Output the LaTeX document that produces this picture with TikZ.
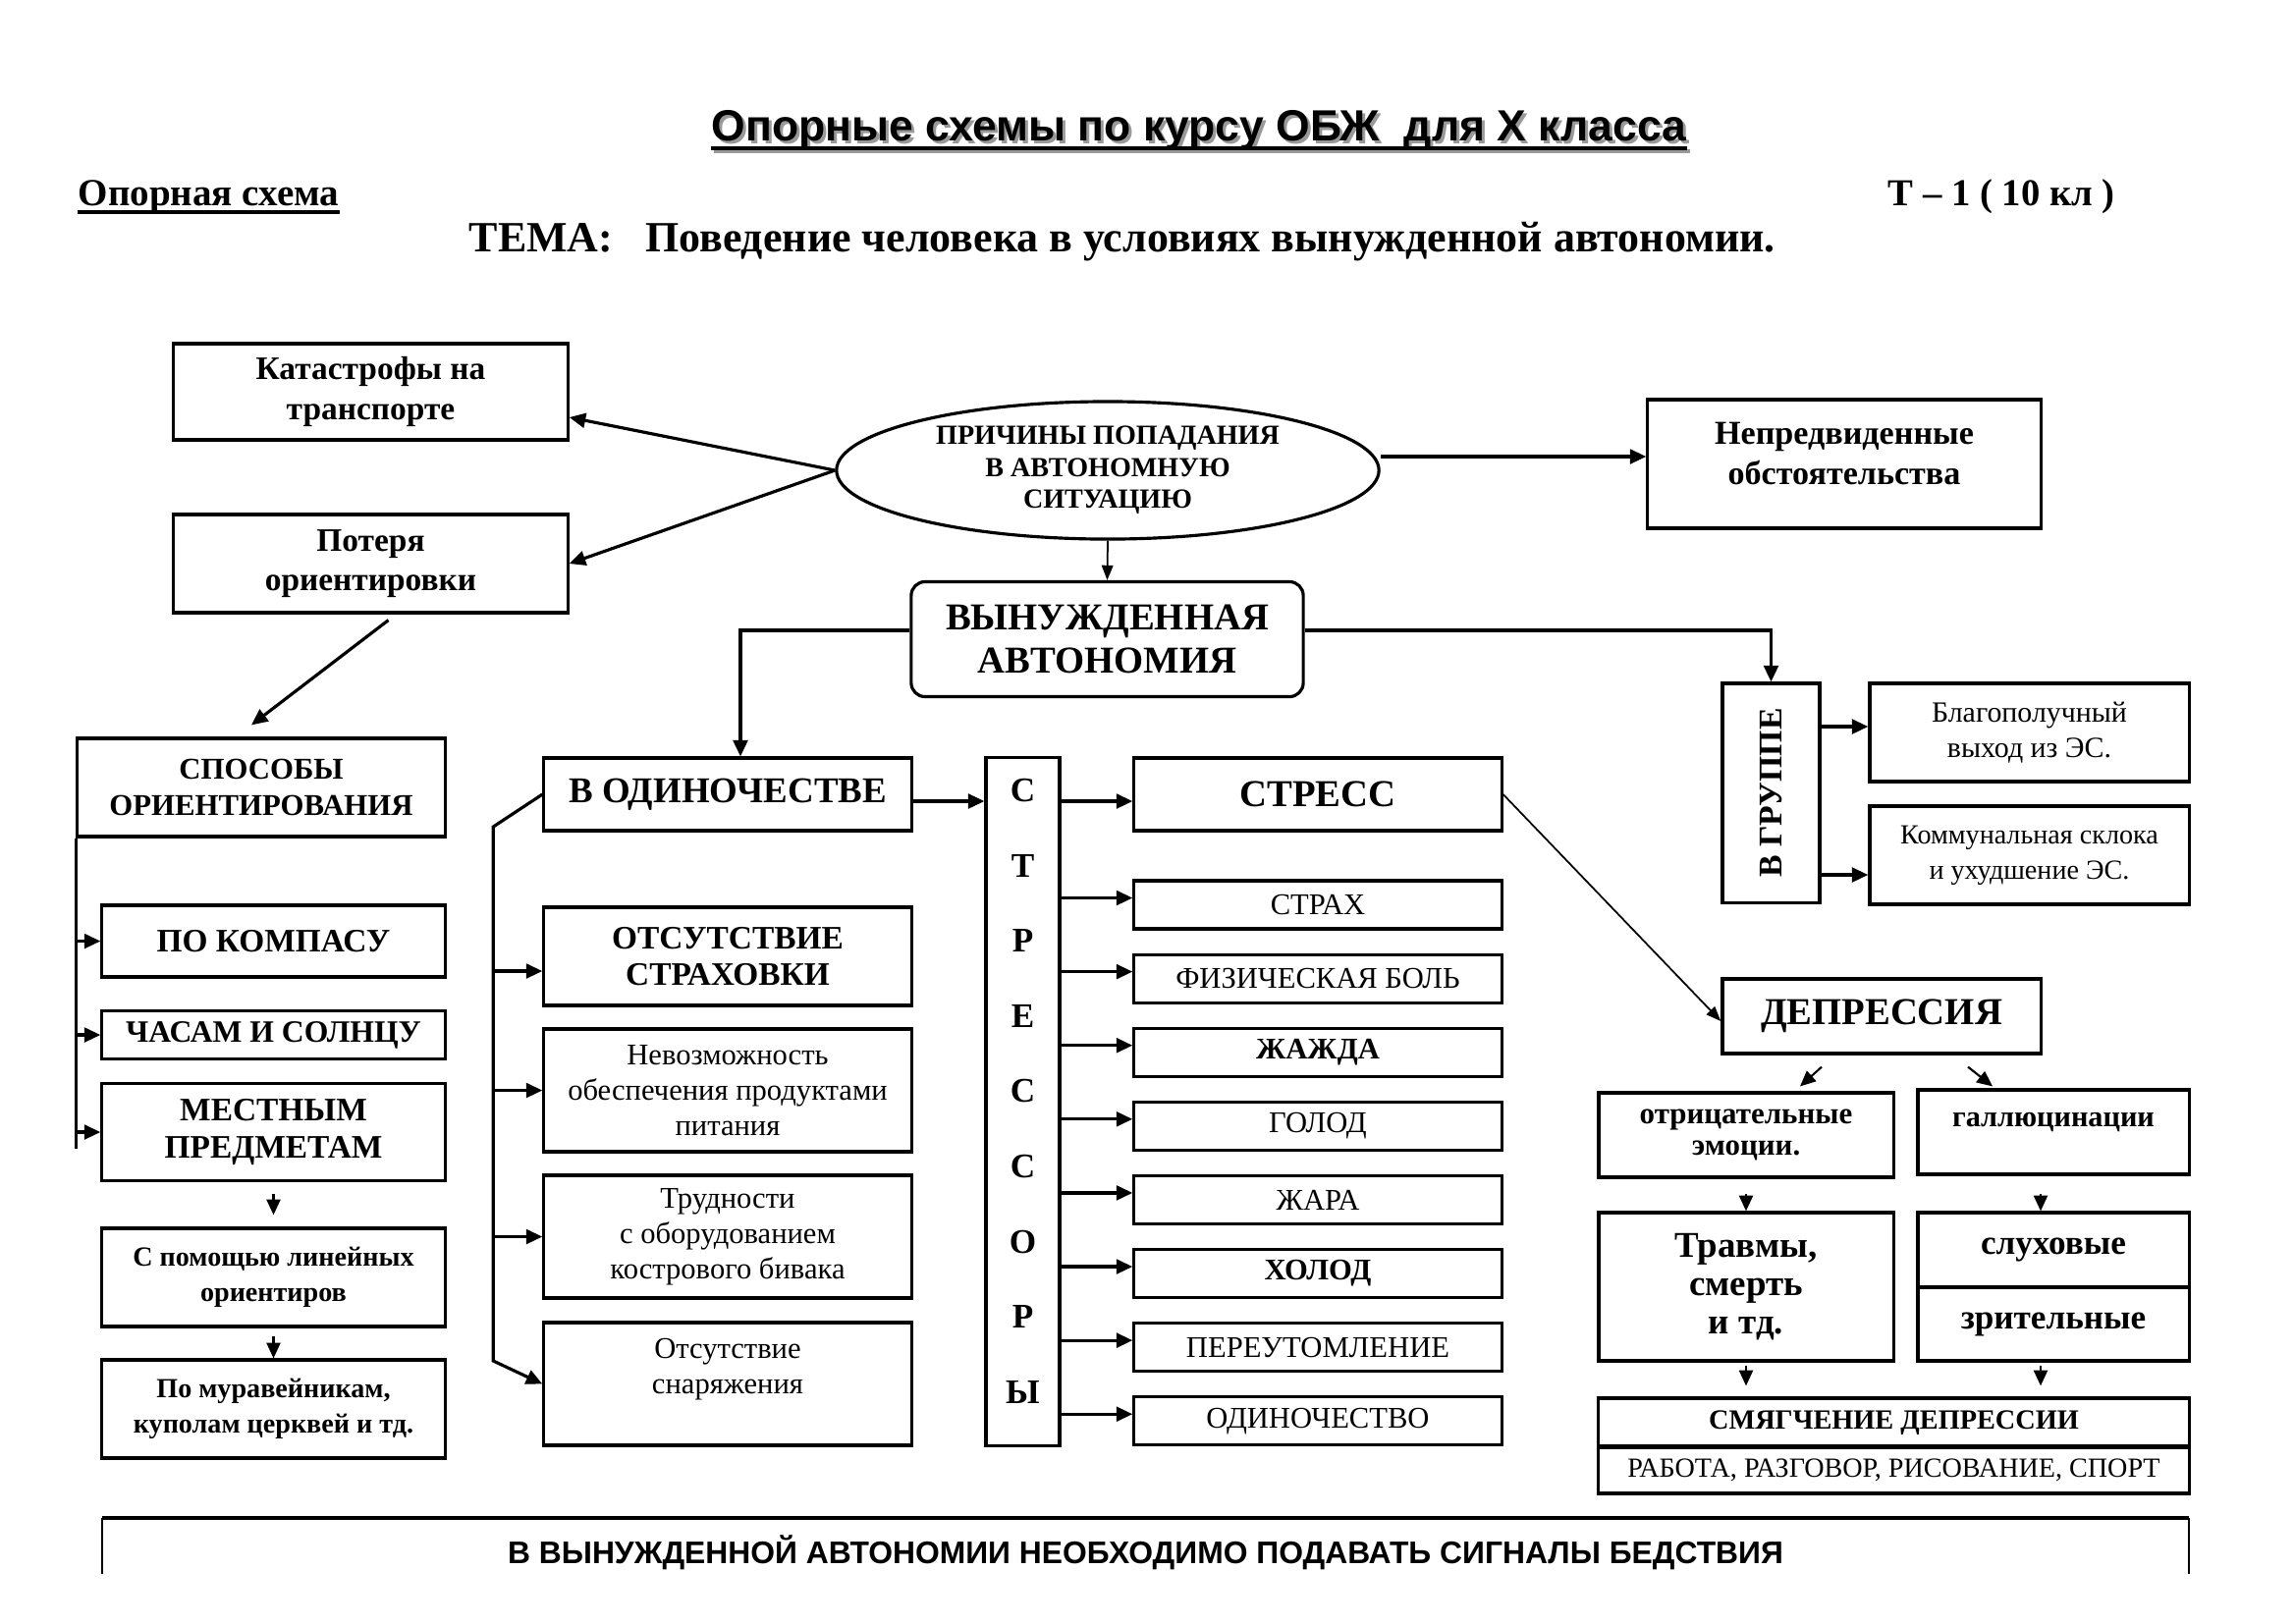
\documentclass[tikz,border=0pt]{standalone}
\usepackage{fontspec}
\setmainfont{Liberation Serif}
\newfontfamily\arialfont{Liberation Sans}
\usetikzlibrary{arrows.meta,calc,shapes.geometric}
\newcommand\fsz[2]{\fontsize{#1}{#2}\selectfont}

\begin{document}
\begin{tikzpicture}[x=0.01cm,y=-0.01cm,
  bx/.style={draw,line width=0.9pt,inner sep=1pt,align=center},
  item/.style={bx,minimum width=3.74cm,minimum height=0.49cm,font=\fsz{8.7}{10}},
  txt/.style={inner sep=0pt,align=center},
  arr/.style={-{Triangle[length=4.7pt,width=4.2pt]},line width=0.9pt},
  sarr/.style={-{Triangle[length=4.5pt,width=4pt]},line width=0.6pt},
  tarr/.style={-{Triangle[length=4.3pt,width=3.3pt]},line width=0.5pt},
  ln/.style={line width=0.9pt}]
\useasboundingbox (0,0) rectangle (2336,1653);

\node[txt,anchor=base,font=\arialfont\bfseries\fsz{12.65}{15},text=black!40] (title-sh) at (1224,146) {Опорные схемы по курсу ОБЖ\ \ для Х класса};
\node[txt,anchor=base,font=\arialfont\bfseries\fsz{12.65}{15}] (title) at (1221,143) {Опорные схемы по курсу ОБЖ\ \ для Х класса};
\draw[line width=1.3pt,black!40] ($(title.base west)+(3,11)$) -- ($(title.base east)+(3,11)$);
\draw[line width=1.3pt] ($(title.base west)+(0,8)$) -- ($(title.base east)+(0,8)$);
\node[txt,anchor=base west,font=\bfseries\fsz{11.1}{14}] (opor) at (79,209) {Опорная схема};
\draw[line width=1.2pt] ($(opor.base west)+(0,7)$) -- ($(opor.base east)+(0,7)$);
\node[txt,anchor=base west,font=\bfseries\fsz{11}{14}] (tnum) at (1922,209) {Т – 1 ( 10 кл )};
\node[txt,anchor=base west,font=\bfseries\fsz{12.5}{15}] (tema) at (477,256) {ТЕМА:\ \ \ Поведение человека в условиях вынужденной автономии.};

\node[bx,minimum width=4.01cm,minimum height=0.98cm,font=\bfseries\fsz{9.5}{11.5}] (kat) at (377.5,399) {Катастрофы на\\транспорте};
\node[bx,minimum width=4.01cm,minimum height=1cm,font=\bfseries\fsz{9.5}{11.5}] (pot) at (377.5,574) {Потеря\\ориентировки};
\node[draw,ellipse,line width=0.9pt,inner sep=0pt,minimum width=5.52cm,minimum height=1.4cm,align=center,font=\bfseries\fsz{8}{9.2}] (ell) at (1128,479) {ПРИЧИНЫ ПОПАДАНИЯ\\В АВТОНОМНУЮ\\СИТУАЦИЮ};
\node[bx,minimum width=4cm,minimum height=1.31cm] (nep) at (1878,472.5) {};
\node[txt,font=\bfseries\fsz{9.7}{11.5}] (nep-t) at (1878,462) {Непредвиденные\\обстоятельства};
\node[bx,rounded corners=4pt,minimum width=3.99cm,minimum height=1.17cm,font=\bfseries\fsz{11}{12.3}] (vyn) at (1127.5,651) {ВЫНУЖДЕННАЯ\\АВТОНОМИЯ};

\node[bx,minimum width=3.74cm,minimum height=1cm,font=\bfseries\fsz{8.75}{10.6}] (sposob) at (266,802) {СПОСОБЫ\\ОРИЕНТИРОВАНИЯ};
\node[bx,minimum width=3.49cm,minimum height=0.73cm,font=\bfseries\fsz{9.5}{11}] (kompas) at (278.5,958.5) {ПО КОМПАСУ};
\node[bx,minimum width=3.49cm,minimum height=0.49cm,font=\bfseries\fsz{9}{10}] (chasam) at (278.5,1054) {ЧАСАМ И СОЛНЦУ};
\node[bx,minimum width=3.49cm,minimum height=0.99cm,font=\bfseries\fsz{9.5}{11}] (mestn) at (278.5,1153) {МЕСТНЫМ\\ПРЕДМЕТАМ};
\node[bx,minimum width=3.49cm,minimum height=1cm,font=\bfseries\fsz{8}{10.2}] (linej) at (278.5,1301) {С помощью линейных\\ориентиров};
\node[bx,minimum width=3.49cm,minimum height=1cm,font=\bfseries\fsz{8}{10.2}] (murav) at (278.5,1435) {По муравейникам,\\куполам церквей и тд.};

\node[bx,minimum width=3.74cm,minimum height=0.74cm,font=\bfseries\fsz{10.5}{12}] (odin) at (741,809) {В ОДИНОЧЕСТВЕ};
\node[bx,minimum width=3.74cm,minimum height=1cm,font=\bfseries\fsz{9.5}{10.6}] (straho) at (741,974) {ОТСУТСТВИЕ\\СТРАХОВКИ};
\node[bx,minimum width=3.74cm,minimum height=1.25cm,font=\fsz{8.7}{10.2}] (nevoz) at (741,1110.5) {Невозможность\\обеспечения продуктами\\питания};
\node[bx,minimum width=3.74cm,minimum height=1.25cm,font=\fsz{8.7}{10.2}] (trud) at (741,1259.5) {Трудности\\с оборудованием\\кострового бивака};
\node[bx,minimum width=3.74cm,minimum height=1.25cm] (snar) at (741,1409.5) {};
\node[txt,font=\fsz{8.7}{10.2}] (snar-t) at (741,1395) {Отсутствие\\снаряжения};

\node[bx,minimum width=0.75cm,minimum height=7cm] (stressory) at (1041.5,1122) {};
\foreach \l [count=\i from 0] in {С,Т,Р,Е,С,С,О,Р,Ы}
  \node[txt,font=\bfseries\fsz{10}{11}] (sl\i) at (1041.5,{805+76.6*\i}) {\l};

\node[bx,minimum width=3.74cm,minimum height=0.74cm,font=\bfseries\fsz{11}{12}] (stress) at (1342,809) {СТРЕСС};
\foreach \t [count=\i from 0] in {СТРАХ,ФИЗИЧЕСКАЯ БОЛЬ,\textbf{ЖАЖДА},ГОЛОД,ЖАРА,\textbf{ХОЛОД},ПЕРЕУТОМЛЕНИЕ,ОДИНОЧЕСТВО} {
  \node[item] (it\i) at (1342,{921.5+75.1*\i}) {\t};
  \draw[arr] ($(stressory.east |- it\i.west)+(0,-7)$) -- ($(it\i.west)+(0,-7)$);
}

\node[bx,minimum width=0.99cm,minimum height=2.23cm] (gruppa) at (1803.5,807.5) {};
\node[txt,rotate=90,font=\bfseries\fsz{9.6}{11}] (gruppa-t) at (gruppa) {В ГРУППЕ};
\node[bx,minimum width=3.25cm,minimum height=1cm,font=\fsz{8.5}{10.2}] (blag) at (2066.5,746) {Благополучный\\выход из ЭС.};
\node[bx,minimum width=3.25cm,minimum height=1cm,font=\fsz{8}{10.2}] (komm) at (2066.5,871) {Коммунальная склока\\и ухудшение ЭС.};
\node[bx,minimum width=3.24cm,minimum height=0.76cm,font=\bfseries\fsz{11}{12}] (depr) at (1916,1035) {ДЕПРЕССИЯ};
\node[bx,minimum width=3cm,minimum height=0.86cm,font=\bfseries\fsz{8.8}{9.3}] (otric) at (1778,1156) {отрицательные\\эмоции.};
\node[bx,minimum width=2.76cm,minimum height=0.86cm] (gall) at (2091,1153) {};
\node[txt,font=\bfseries\fsz{8.6}{10}] (gall-t) at (2091,1143) {галлюцинации};
\node[bx,minimum width=3cm,minimum height=1.51cm,font=\bfseries\fsz{10.5}{11}] (travm) at (1778,1310.5) {Травмы,\\смерть\\и тд.};
\node[bx,minimum width=2.76cm,minimum height=0.76cm,font=\bfseries\fsz{10}{11}] (sluh) at (2091,1273) {слуховые};
\node[bx,minimum width=2.76cm,minimum height=0.75cm,font=\bfseries\fsz{10}{11}] (zrit) at (2091,1348.5) {зрительные};
\node[bx,minimum width=6.01cm,minimum height=0.5cm,font=\bfseries\fsz{8.05}{9}] (smyag) at (1928.5,1449) {СМЯГЧЕНИЕ ДЕПРЕССИИ};
\node[bx,minimum width=6.01cm,minimum height=0.48cm,font=\fsz{8}{9}] (rabota) at (1928.5,1497) {РАБОТА, РАЗГОВОР, РИСОВАНИЕ, СПОРТ};

\draw[line width=1.3pt] (104,1546) -- (2229,1546);
\draw[line width=0.8pt] (104,1603) -- (104,1546) (2229,1546) -- (2229,1603);
\node[txt,font=\arialfont\bfseries\fsz{9.05}{11}] (sig) at (1166.5,1581) {В ВЫНУЖДЕННОЙ АВТОНОМИИ НЕОБХОДИМО ПОДАВАТЬ СИГНАЛЫ БЕДСТВИЯ};

\draw[arr] (ell.west) -- ($(kat.east)+(0,26)$);
\draw[arr] (ell.west) -- (pot.east);
\draw[arr] ($(ell.east)+(0,-14)$) -- ($(ell.east -| nep.west)+(0,-14)$);
\draw[tarr] (ell.south) -- (vyn.north);
\draw[arr] ($(pot.south)+(18,6)$) -- ($(sposob.north)+(-10,-12)$);
\draw[arr] ($(vyn.west)+(0,-9)$) -| ($(odin.north)+(13,0)$);
\draw[arr] ($(vyn.east)+(0,-9)$) -| (gruppa.north);

\draw[ln] (sposob.south west) -- ++(0,316);
\foreach \b in {kompas,chasam,mestn}
  \draw[arr] (sposob.west |- \b.west) -- (\b.west);
\draw[sarr] ($(mestn.south)+(0,12)$) -- ($(linej.north)+(0,-12)$);
\draw[sarr] ($(linej.south)+(0,8)$) -- (murav.north);

\draw[arr] (odin.west) -- ++(-50,33) coordinate (obr) -- ++(0,544) -- (snar.west);
\draw[arr] ($(obr |- straho.west)+(0,15)$) -- ($(straho.west)+(0,15)$);
\foreach \b in {nevoz,trud}
  \draw[arr] (obr |- \b.west) -- (\b.west);
\draw[arr] ($(odin.east)+(0,7)$) -- ($(odin.east -| stressory.west)+(0,7)$);
\draw[arr] ($(stressory.east |- stress.west)+(0,7)$) -- ($(stress.west)+(0,7)$);
\draw[tarr] (stress.east) -- ($(depr.west)+(0,5)$);

\draw[arr] ($(gruppa.east |- blag.west)+(0,-6)$) -- ($(blag.west)+(0,-6)$);
\draw[arr] ($(gruppa.east |- komm.west)+(0,20)$) -- ($(komm.west)+(0,20)$);
\draw[sarr] ($(depr.south)+(-61,12)$) -- ($(otric.north)+(55,-5)$);
\draw[sarr] ($(depr.south)+(88,12)$) -- ($(gall.north)+(-62,-2)$);
\draw[sarr] ($(otric.south)+(0,15)$) -- (travm.north);
\draw[sarr] ($(gall.south)+(-13,18)$) -- ($(sluh.north)+(-13,0)$);
\draw[sarr] ($(travm.south)+(0,3)$) -- ($(travm.south |- smyag.north)+(0,-11)$);
\draw[sarr] ($(zrit.south)+(-13,3)$) -- ($(zrit.south |- smyag.north)+(-13,-11)$);
\end{tikzpicture}
\end{document}
